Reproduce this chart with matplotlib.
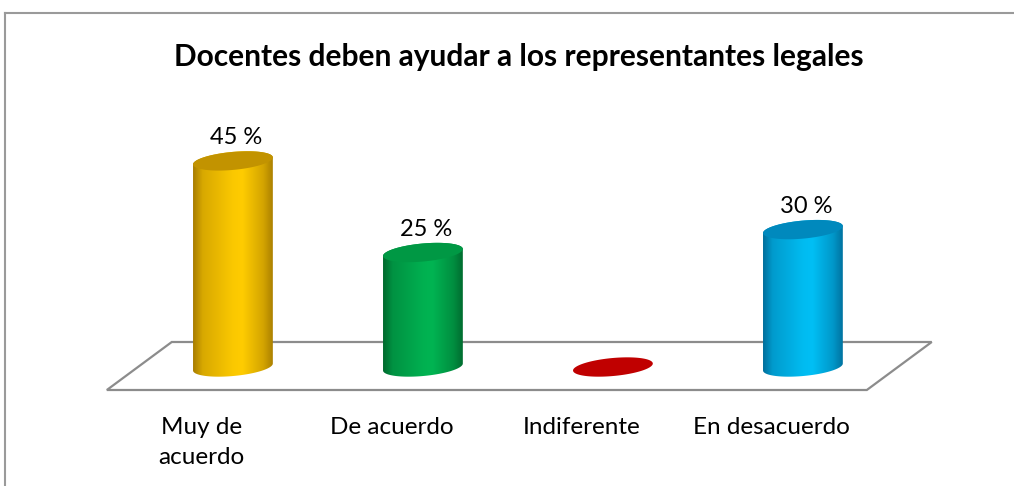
import numpy as np
import matplotlib.pyplot as plt
from matplotlib.patches import Polygon
from matplotlib.lines import Line2D
from matplotlib.colors import to_rgb

titulo = "Docentes deben ayudar a los representantes legales"
categorias = ["Muy de\nacuerdo", "De acuerdo", "Indiferente", "En desacuerdo"]
porcentajes = [45, 25, 0, 30]
etiquetas = ["45 %", "25 %", "", "30 %"]

# borde, centro claro, tapa
colores = [
    ("#a87d00", "#ffcc00", "#c29300"),
    ("#00692e", "#00b452", "#009844"),
    ("#8a0000", "#c00000", "#c00000"),
    ("#006f9c", "#00bff5", "#0089bd"),
]

plt.rcParams['font.family'] = ['Lato', 'DejaVu Sans']

fig = plt.figure(figsize=(10.14, 4.86), dpi=100)
ax = fig.add_axes([0, 0, 1, 1])
ax.set_axis_off()

# escala: 190 px por categoria, 4.58 px por punto porcentual
ax.set_xlim(-1.226, 4.111)
ax.set_ylim(-25.98, 80.13)

# cilindros y suelo (unidades de datos)
a = 0.21      # medio ancho
b = 1.97      # semieje vertical de la elipse
k = 0.76      # inclinacion de la elipse
skew = 0.0326
piso_atras, piso_frente = 5.46, -5.02
n = len(categorias)

# suelo en perspectiva
xs = [-0.5 + skew * piso_frente, n - 0.5 + skew * piso_frente,
      n - 0.5 + skew * piso_atras, -0.5 + skew * piso_atras]
ys = [piso_frente, piso_frente, piso_atras, piso_atras]
ax.add_patch(Polygon(list(zip(xs, ys)), closed=True, facecolor="white",
                     edgecolor="#8c8c8c", lw=1.6, zorder=1))


def elipse(cx, cy, t):
    return cx + a * np.cos(t), cy + b * np.sin(t) + k * np.cos(t)


def degradado(c_borde, c_centro):
    borde = np.array(to_rgb(c_borde))
    centro = np.array(to_rgb(c_centro))
    pos = np.linspace(0, 1, 200)
    w = np.interp(pos, [0, 0.12, 0.5, 0.62, 0.88, 1], [0, 0.55, 0.95, 1, 0.5, 0.05])
    fila = borde[None, :] * (1 - w[:, None]) + centro[None, :] * w[:, None]
    return fila[None, :, :]


for i, (v, (c_borde, c_centro, c_tapa)) in enumerate(zip(porcentajes, colores)):
    if v > 0:
        t_bajo = np.linspace(np.pi, 2 * np.pi, 60)
        t_alto = np.linspace(0, np.pi, 60)
        x1, y1 = elipse(i, 0, t_bajo)
        x2, y2 = elipse(i, v, t_alto)
        cuerpo = Polygon(np.column_stack([np.r_[x1, x2], np.r_[y1, y2]]),
                         closed=True, facecolor="none", edgecolor="none", zorder=2)
        ax.add_patch(cuerpo)
        im = ax.imshow(degradado(c_borde, c_centro), aspect="auto",
                       extent=[i - a, i + a, -b - k - 1, v + b + k + 1],
                       zorder=2, interpolation="bilinear")
        im.set_clip_path(cuerpo)
    tt = np.linspace(0, 2 * np.pi, 120)
    xt, yt = elipse(i, v, tt)
    ax.add_patch(Polygon(np.column_stack([xt, yt]), closed=True,
                         facecolor=c_tapa, edgecolor="none", zorder=3))
    if etiquetas[i]:
        ax.annotate(etiquetas[i], (i + 0.015, v + np.hypot(b, k)),
                    xytext=(0, 2), textcoords="offset points",
                    ha="center", va="bottom", fontsize=17, color="black", zorder=4)

# etiquetas de categoria centradas en el borde frontal
for i, cat in enumerate(categorias):
    ax.text(i + skew * piso_frente, -10.9, cat, ha="center", va="top",
            fontsize=17.5, linespacing=1.55, color="black")

fig.text(0.512, 1 - 57 / 486, titulo, ha="center", va="center",
         fontsize=21.5, fontweight="bold", color="black")

# marco del grafico
fig.add_artist(Line2D([5 / 1014, 5 / 1014], [0, 1 - 13 / 486],
                      transform=fig.transFigure, color="#9a9a9a", lw=1.5))
fig.add_artist(Line2D([5 / 1014, 1], [1 - 13 / 486, 1 - 13 / 486],
                      transform=fig.transFigure, color="#9a9a9a", lw=1.5))

fig.savefig("out.png", dpi=100)
